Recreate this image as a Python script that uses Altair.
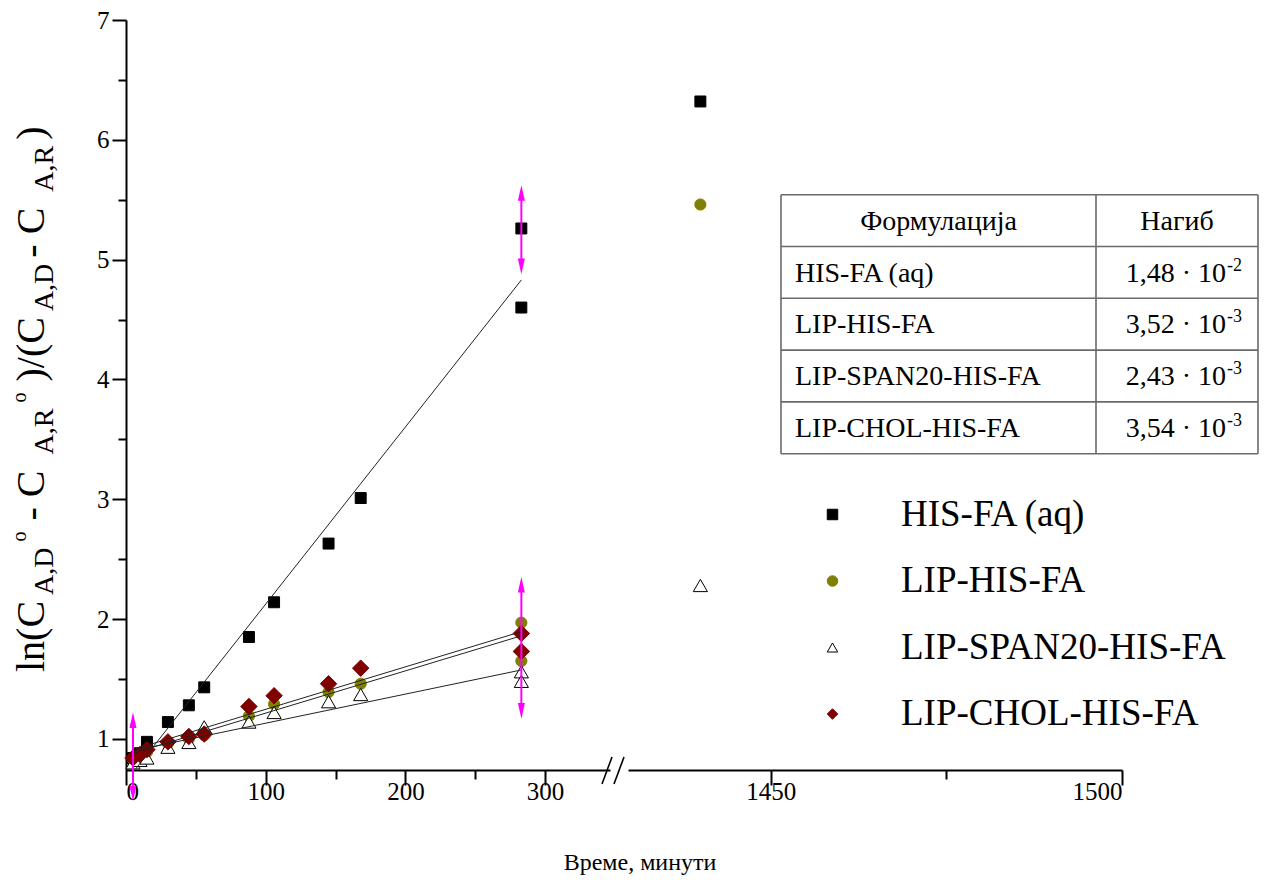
import altair as alt
import pandas as pd

FONT = "Liberation Serif"

# ---------------- data ----------------
series_names = ["HIS-FA (aq)", "LIP-HIS-FA", "LIP-SPAN20-HIS-FA", "LIP-CHOL-HIS-FA"]

times = [5, 10, 15, 30, 45, 56, 88, 106, 145, 168, 283, 283]
his_fa = [0.84, 0.88, 0.975, 1.14, 1.28, 1.43, 1.85, 2.14, 2.63, 3.01, 5.26, 4.60]
lip_his = [0.83, 0.86, 0.89, 0.96, 1.00, 1.03, 1.19, 1.29, 1.39, 1.46, 1.97, 1.65]
lip_span = [0.80, 0.82, 0.84, 0.93, 0.97, 1.10, 1.14, 1.22, 1.31, 1.37, 1.56, 1.48]
lip_chol = [0.84, 0.87, 0.91, 0.975, 1.02, 1.04, 1.27, 1.36, 1.46, 1.59, 1.88, 1.73]

late_time = 1440
late_series = ["HIS-FA (aq)", "LIP-HIS-FA", "LIP-SPAN20-HIS-FA"]
late_values = [6.32, 5.46, 2.28]

fit_start_t = [7, 5, 5, 5]
fit_start_y = [0.75, 0.88, 0.90, 0.91]
fit_end_t = [283, 283, 283, 283]
fit_end_y = [4.83, 1.86, 1.575, 1.895]

marker_t = [5, 283, 283]
marker_lo = [0.56, 4.96, 1.25]
marker_hi = [1.14, 5.54, 2.27]

table_header = ["Формулација", "Нагиб"]
table_slopes = ["1,48 · 10", "3,52 · 10", "2,43 · 10", "3,54 · 10"]
table_exps = ["-2", "-3", "-3", "-3"]

x_title = "Време, минути"
y_title_pieces = [("ln(C", "main"), ("A,D", "sub"), (" o", "sup"), (" - C", "main"),
                  ("A,R", "sub"), (" o", "sup"), (")/(C", "main"), ("A,D", "sub"),
                  (" - C", "main"), ("A,R", "sub"), (")", "main")]

# ---------------- frames ----------------
rows = []
for name, vals in zip(series_names, [his_fa, lip_his, lip_span, lip_chol]):
    for t, v in zip(times, vals):
        rows.append({"t": t, "v": v, "series": name})
points_df = pd.DataFrame(rows)
late_df = pd.DataFrame({"t": [late_time] * len(late_values), "v": late_values, "series": late_series})
fit_df = pd.DataFrame({"series": series_names, "t0": fit_start_t, "y0": fit_start_y,
                       "t1": fit_end_t, "y1": fit_end_y})
mark_df = pd.DataFrame({"t": marker_t, "lo": marker_lo, "hi": marker_hi})
one_df = pd.DataFrame({"k": [0]})  # single row for annotations

# ---------------- scales ----------------
H = 750
W_LEFT = 484
W_RIGHT = 494
y_scale = alt.Scale(domain=[0.74, 7], nice=False, zero=False)
x_left = alt.Scale(domain=[0, W_LEFT / 1.397], nice=False, zero=False)
x_right = alt.Scale(domain=[1429.7, 1500], nice=False, zero=False)

shape_scale = alt.Scale(domain=series_names, range=["square", "circle", "triangle-up", "diamond"])
fill_scale = alt.Scale(domain=series_names, range=["#000000", "#808000", "#ffffff", "#800000"])
stroke_scale = alt.Scale(domain=series_names, range=["#000000", "#808000", "#000000", "#800000"])
size_scale = alt.Scale(domain=series_names, range=[120, 125, 200, 270])

axis_common = dict(grid=False, domainColor="black", domainWidth=2, tickColor="black",
                   tickWidth=2, labelFont=FONT, labelFontSize=25, labelColor="black",
                   labelFontWeight="normal", title=None)

y_axis = alt.Axis(values=[1 + 0.5 * i for i in range(13)], format=".0f",
                  labelExpr="datum.value % 1 === 0 ? datum.label : ''",
                  tickSize={"condition": {"test": "datum.value % 1 === 0", "value": 14}, "value": 8},
                  labelPadding=3, **axis_common)
x_axis_left = alt.Axis(values=[0, 50, 100, 150, 200, 250, 300], format="d",
                       labelExpr="datum.value % 100 === 0 ? datum.label : ''",
                       tickSize={"condition": {"test": "datum.value % 100 === 0", "value": 15}, "value": 9},
                       labelPadding=-6, **axis_common)
x_axis_right = alt.Axis(values=[1450, 1475, 1500], format="d",
                        labelExpr="datum.value % 50 === 0 ? datum.label : ''",
                        tickSize={"condition": {"test": "datum.value % 50 === 0", "value": 15}, "value": 9},
                        labelPadding=-6, **axis_common)


def points(df, xs, xa, ya):
    base = alt.Chart(df).mark_point(opacity=1, strokeWidth=1).encode(
        x=alt.X("t:Q", scale=xs, axis=xa),
        y=alt.Y("v:Q", scale=y_scale, axis=ya),
        shape=alt.Shape("series:N", scale=shape_scale, title=None),
        fill=alt.Fill("series:N", scale=fill_scale, title=None),
        stroke=alt.Stroke("series:N", scale=stroke_scale, title=None),
    )
    layers = []
    for name, sz in zip(series_names, size_scale.range):
        layers.append(base.transform_filter(alt.datum.series == name).mark_point(
            opacity=1, strokeWidth=1, size=sz))
    return layers


# ---------------- left panel ----------------
left_pts = points(points_df, x_left, x_axis_left, y_axis)

fits = alt.Chart(fit_df).mark_rule(color="#222222", strokeWidth=1).encode(
    x=alt.X("t0:Q", scale=x_left), x2="t1:Q",
    y=alt.Y("y0:Q", scale=y_scale), y2="y1:Q",
)

ARROW_UP = "M0,-1L0.36,0.6L-0.36,0.6Z"
ARROW_DN = "M0,1L0.36,-0.6L-0.36,-0.6Z"
mag_rule = alt.Chart(mark_df).mark_rule(color="#ff00ff", strokeWidth=2).encode(
    x=alt.X("t:Q", scale=x_left), y=alt.Y("lo:Q", scale=y_scale), y2="hi:Q")
mag_up = alt.Chart(mark_df).mark_point(shape=ARROW_UP, filled=True, color="#ff00ff",
                                       opacity=1, size=380).encode(
    x=alt.X("t:Q", scale=x_left), y=alt.Y("hi:Q", scale=y_scale))
mag_dn = alt.Chart(mark_df).mark_point(shape=ARROW_DN, filled=True, color="#ff00ff",
                                       opacity=1, size=380).encode(
    x=alt.X("t:Q", scale=x_left), y=alt.Y("lo:Q", scale=y_scale))

# axis break marks
brk = []
for dx in (0, 12):
    brk.append(alt.Chart(one_df).mark_rule(color="black", strokeWidth=1.6).encode(
        x=alt.value(W_LEFT - 8 + dx), x2=alt.value(W_LEFT + 2 + dx),
        y=alt.value(H + 14), y2=alt.value(H - 13)))

# x title
xt = alt.Chart(one_df).mark_text(text=x_title, font=FONT, fontSize=24, fontWeight="normal",
                                 align="center", baseline="alphabetic").encode(
    x=alt.value(514), y=alt.value(850))

# y title built from pieces (rotated, reading bottom to top)
em = {"l": .278, "n": .5, "(": .333, ")": .333, "C": .667, "A": .722, ",": .25, "D": .722,
      "R": .667, " ": .25, "-": .333, "/": .278, "o": .5}
sizes = {"main": 40, "sub": 28, "sup": 20}
shifts = {"main": 0, "sub": 9, "sup": -18}
GAP = 6
X_BASE = 44 - 126
ypos = 670 - 18
ylayers = []
for txt, kind in y_title_pieces:
    ylayers.append(alt.Chart(one_df).mark_text(text=txt, font=FONT, fontSize=sizes[kind],
                                               fontWeight="normal", angle=270, align="left",
                                               baseline="alphabetic").encode(
        x=alt.value(X_BASE + shifts[kind]), y=alt.value(ypos)))
    ypos -= sum(em[c] for c in txt) * sizes[kind] + GAP

left = alt.layer(*left_pts, fits, mag_rule, mag_up, mag_dn, *brk, xt, *ylayers).properties(
    width=W_LEFT, height=H)

# ---------------- right panel ----------------
right_pts = points(late_df, x_right, x_axis_right, None)

RX0 = 628
T_LEFT, T_RIGHT, T_DIV = 781 - RX0, 1258 - RX0, 1096 - RX0
T_TOP, ROW_H = 192.7 - 18, 51.8
tbl = []
for i in range(6):
    yy = T_TOP + i * ROW_H
    tbl.append(alt.Chart(one_df).mark_rule(color="#6a6a6a", strokeWidth=1.6).encode(
        x=alt.value(T_LEFT), x2=alt.value(T_RIGHT), y=alt.value(yy)))
for xx in (T_LEFT, T_DIV, T_RIGHT):
    tbl.append(alt.Chart(one_df).mark_rule(color="#6a6a6a", strokeWidth=1.6).encode(
        x=alt.value(xx), y=alt.value(T_TOP), y2=alt.value(T_TOP + 5 * ROW_H)))
TFS = 28
txt_style = dict(font=FONT, fontSize=TFS, fontWeight="normal", baseline="alphabetic")
tbl.append(alt.Chart(one_df).mark_text(text=table_header[0], align="center", **txt_style).encode(
    x=alt.value((T_LEFT + T_DIV) / 2), y=alt.value(T_TOP + 35)))
tbl.append(alt.Chart(one_df).mark_text(text=table_header[1], align="center", **txt_style).encode(
    x=alt.value((T_DIV + T_RIGHT) / 2), y=alt.value(T_TOP + 35)))
for i, (nm, sl, ex) in enumerate(zip(series_names, table_slopes, table_exps)):
    base = T_TOP + (i + 1) * ROW_H + 35
    tbl.append(alt.Chart(one_df).mark_text(text=nm, align="left", **txt_style).encode(
        x=alt.value(T_LEFT + 14), y=alt.value(base)))
    tbl.append(alt.Chart(one_df).mark_text(text=sl, align="right", **txt_style).encode(
        x=alt.value(1226 - RX0), y=alt.value(base)))
    tbl.append(alt.Chart(one_df).mark_text(text=ex, font=FONT, fontSize=18, fontWeight="normal",
                                           align="left", baseline="alphabetic").encode(
        x=alt.value(1227 - RX0), y=alt.value(base - 11)))

right = alt.layer(*right_pts, *tbl).properties(width=W_RIGHT, height=H)

chart = alt.hconcat(left, right, spacing=RX0 - 126 - W_LEFT, bounds="flush").properties(
    padding={"left": 2, "top": 0, "right": 5, "bottom": 5}
).configure_view(stroke=None).configure_legend(
    orient="none", legendX=688, legendY=476, padding=0, labelFont=FONT, labelFontSize=37,
    labelFontWeight="normal", labelColor="black", symbolSize=110, symbolStrokeWidth=1,
    labelOffset=50, rowPadding=28.5, labelLimit=600
).configure_text(color="black")

chart.save("out.html", embed_options={"renderer": "svg", "actions": False})
